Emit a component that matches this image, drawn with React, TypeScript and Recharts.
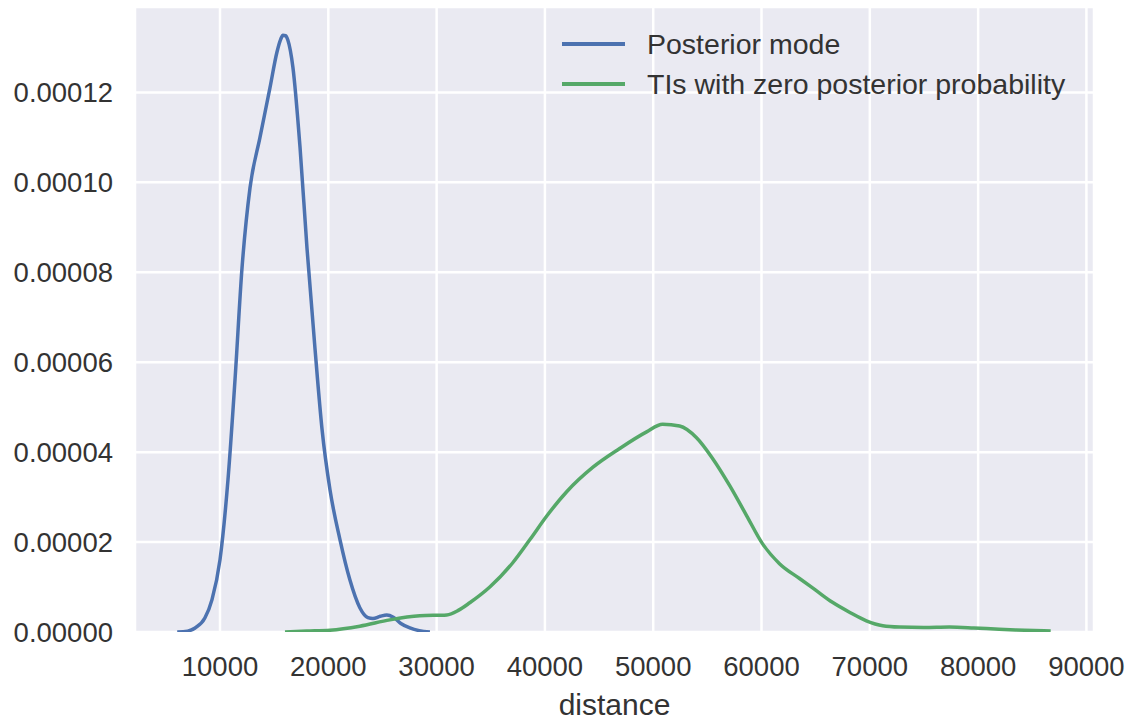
import { LineChart, Line, XAxis, YAxis, CartesianGrid } from "recharts";

const posteriorX = [6050, 7000, 7700, 8600, 9260, 10000, 10740, 11390, 12030, 12770, 13690, 14610, 15260, 15600, 15810, 16050, 16270, 16730, 17390, 18030, 18770, 19420, 20150, 21070, 21990, 22910, 23650, 24120, 24800, 25400, 26000, 26700, 27530, 28400, 29380];
const posteriorY = [0, 0.0000002, 0.0000009, 0.0000031, 0.0000072, 0.0000161, 0.000034, 0.0000563, 0.0000809, 0.0000988, 0.00011, 0.000121, 0.000129, 0.0001318, 0.0001327, 0.0001326, 0.0001316, 0.0001256, 0.0001077, 0.0000854, 0.000063, 0.0000451, 0.0000317, 0.0000206, 0.0000116, 0.0000054, 0.0000032, 0.000003, 0.0000035, 0.0000038, 0.0000033, 0.0000019, 0.0000009, 0.0000003, 0];

const zeroProbX = [16000, 18000, 20150, 22910, 25680, 28450, 30940, 32000, 33060, 34910, 37030, 38600, 40170, 42010, 44410, 46900, 49390, 50870, 52440, 54000, 55480, 57050, 58620, 60100, 61660, 63510, 65000, 66550, 68200, 69680, 71200, 72730, 75000, 77340, 79600, 81950, 84300, 86700];
const zeroProbY = [0, 0.0000002, 0.0000004, 0.0000013, 0.0000027, 0.0000036, 0.0000038, 0.0000048, 0.0000065, 0.00001, 0.0000154, 0.0000205, 0.0000258, 0.0000312, 0.0000366, 0.0000408, 0.0000445, 0.0000462, 0.0000458, 0.0000432, 0.0000386, 0.0000326, 0.0000259, 0.0000196, 0.0000152, 0.0000119, 0.0000093, 0.0000066, 0.0000043, 0.0000025, 0.0000014, 0.0000011, 0.000001, 0.0000011, 0.0000009, 0.0000006, 0.0000004, 0.0000002];

const xTicks = [10000, 20000, 30000, 40000, 50000, 60000, 70000, 80000, 90000];
const yTicks = [0, 0.00002, 0.00004, 0.00006, 0.00008, 0.0001, 0.00012];

const seriesNames = ["Posterior mode", "TIs with zero posterior probability"];
const colors = ["#4C72B0", "#55A868"];

const posteriorData = posteriorX.map((x, i) => ({ x, y: posteriorY[i] }));
const zeroProbData = zeroProbX.map((x, i) => ({ x, y: zeroProbY[i] }));

const font = '"Liberation Sans", Arial, sans-serif';
const textColor = "#333333";

const App = () => {
  return (
    <div style={{ position: "absolute", left: 0, top: 0, background: "#fff" }}>
      <LineChart
        width={1126}
        height={721}
        margin={{ top: 7, right: 32, left: 0, bottom: 0 }}
      >
        <CartesianGrid fill="#EAEAF2" stroke="#ffffff" strokeWidth={2.5} />
        <XAxis
          dataKey="x"
          type="number"
          domain={[2150, 90700]}
          ticks={xTicks}
          interval={0}
          allowDataOverflow
          height={89}
          axisLine={false}
          tickLine={false}
          tickSize={0}
          tickMargin={24}
          tick={{ fill: textColor, fontSize: 27.5, fontFamily: font }}
          label={{
            value: "distance",
            position: "insideBottom",
            offset: 6,
            fill: textColor,
            fontSize: 30,
            fontFamily: font,
          }}
        />
        <YAxis
          type="number"
          domain={[0, 0.000139]}
          ticks={yTicks}
          interval={0}
          allowDataOverflow
          width={135}
          axisLine={false}
          tickLine={false}
          tickSize={0}
          tickMargin={22}
          tickFormatter={(v: number) => v.toFixed(5)}
          tick={{ fill: textColor, fontSize: 27.5, fontFamily: font }}
        />
        <Line
          data={posteriorData}
          dataKey="y"
          name={seriesNames[0]}
          type="monotone"
          stroke={colors[0]}
          strokeWidth={3.5}
          dot={false}
          isAnimationActive={false}
        />
        <Line
          data={zeroProbData}
          dataKey="y"
          name={seriesNames[1]}
          type="monotone"
          stroke={colors[1]}
          strokeWidth={3.5}
          dot={false}
          isAnimationActive={false}
        />
      </LineChart>
      {/* legend drawn as an overlay so it takes no room from the plot */}
      <div
        style={{
          position: "absolute",
          left: 562,
          top: 24,
          fontFamily: font,
          fontSize: 28.5,
          color: textColor,
        }}
      >
        {seriesNames.map((name, i) => (
          <div key={name} style={{ display: "flex", alignItems: "center", height: 40 }}>
            <div style={{ width: 63, height: 4, background: colors[i], marginRight: 22 }} />
            <span>{name}</span>
          </div>
        ))}
      </div>
    </div>
  );
};

export default App;
